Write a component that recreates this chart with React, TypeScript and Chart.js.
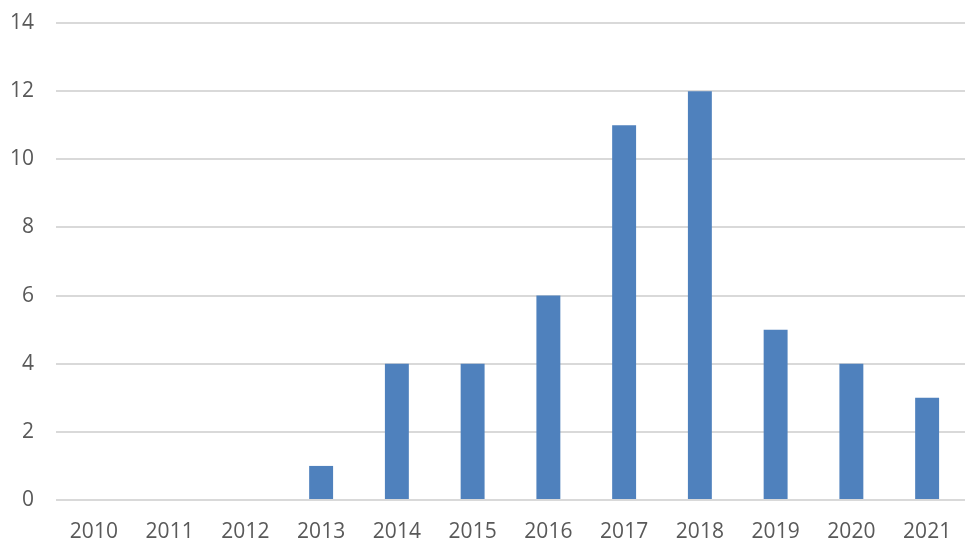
import React, { useEffect, useRef } from "react";
import { Chart, registerables } from "chart.js";

Chart.register(...registerables);

const years: string[] = ["2010", "2011", "2012", "2013", "2014", "2015", "2016", "2017", "2018", "2019", "2020", "2021"];
const counts: number[] = [0, 0, 0, 1, 4, 4, 6, 11, 12, 5, 4, 3];
const yMax = 14;
const yStep = 2;

export default function App() {
  const ref = useRef<HTMLCanvasElement | null>(null);
  useEffect(() => {
    document.body.style.margin = "0";
    if (!ref.current) return;
    const font = { family: "'Open Sans', 'Noto Sans', sans-serif", size: 21 };
    const chart = new Chart(ref.current, {
      type: "bar",
      data: {
        labels: years,
        datasets: [
          {
            data: counts,
            backgroundColor: "#4f81bd",
            categoryPercentage: 1,
            barPercentage: 0.316,
          },
        ],
      },
      options: {
        animation: false,
        responsive: false,
        maintainAspectRatio: false,
        layout: { padding: { top: 23, right: 11, bottom: 0, left: 0 } },
        plugins: { legend: { display: false }, tooltip: { enabled: false } },
        scales: {
          x: {
            grid: { display: false, drawTicks: false },
            border: { display: false },
            ticks: { color: "#595959", font, padding: 19, maxRotation: 0 },
            afterFit: (s: any) => {
              s.height = 57;
            },
          },
          y: {
            min: 0,
            max: yMax,
            ticks: { stepSize: yStep, color: "#595959", font, padding: 22 },
            grid: { color: "#d9d9d9", lineWidth: 2, drawTicks: false },
            border: { display: false },
            afterFit: (s: any) => {
              s.width = 56;
              s.paddingTop = 0;
              s.paddingBottom = 0;
            },
          },
        },
      },
    });
    return () => chart.destroy();
  }, []);
  return (
    <div style={{ width: 976, height: 557, background: "#fff" }}>
      <canvas ref={ref} width={976} height={557} style={{ display: "block" }} />
    </div>
  );
}
